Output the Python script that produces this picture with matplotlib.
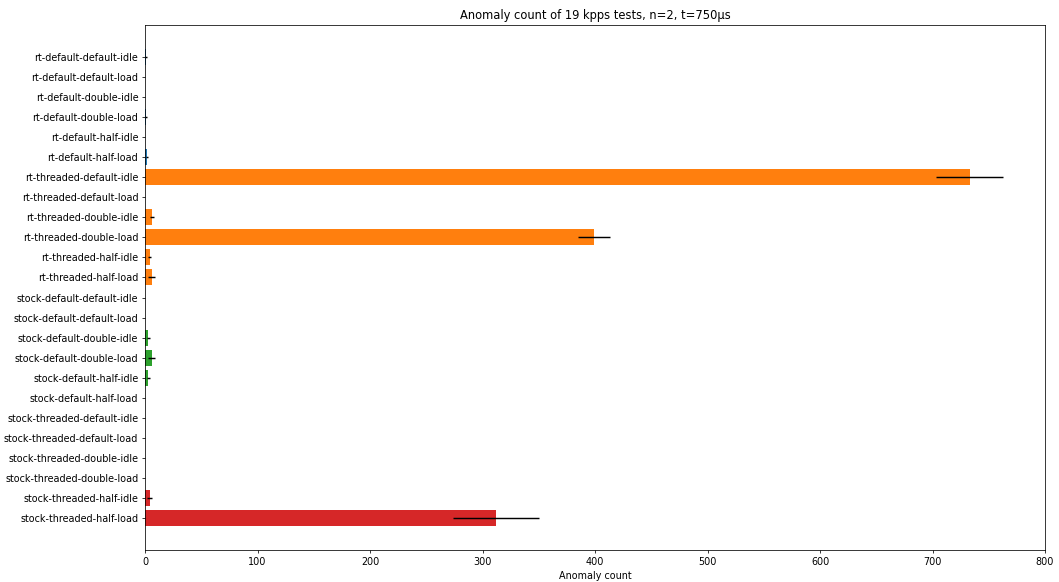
import matplotlib
matplotlib.use("Agg")
import matplotlib.pyplot as plt

labels = [
    "rt-default-default-idle", "rt-default-default-load",
    "rt-default-double-idle", "rt-default-double-load",
    "rt-default-half-idle", "rt-default-half-load",
    "rt-threaded-default-idle", "rt-threaded-default-load",
    "rt-threaded-double-idle", "rt-threaded-double-load",
    "rt-threaded-half-idle", "rt-threaded-half-load",
    "stock-default-default-idle", "stock-default-default-load",
    "stock-default-double-idle", "stock-default-double-load",
    "stock-default-half-idle", "stock-default-half-load",
    "stock-threaded-default-idle", "stock-threaded-default-load",
    "stock-threaded-double-idle", "stock-threaded-double-load",
    "stock-threaded-half-idle", "stock-threaded-half-load",
]
means = [1, 0, 0, 1, 0, 2,
         733, 0, 6, 399, 4, 6,
         0, 0, 3, 6, 3, 0,
         0, 0, 0, 0, 4, 312]
stds = [1, 0, 0, 1, 0, 1,
        30, 0, 2, 14.5, 1.5, 3,
        0, 0, 1, 3, 1.5, 0,
        0, 0, 0, 0, 2, 38]
groups = ["rt-default"] * 6 + ["rt-threaded"] * 6 + ["stock-default"] * 6 + ["stock-threaded"] * 6
group_colors = {"rt-default": "tab:blue", "rt-threaded": "tab:orange",
                "stock-default": "tab:green", "stock-threaded": "tab:red"}

DPI = 69
fig = plt.figure(figsize=(1059 / DPI, 582 / DPI), dpi=DPI)
ax = fig.add_axes([145 / 1059, 1 - 550 / 582, 900 / 1059, 525 / 582])
ypos = list(range(len(labels)))
ax.barh(ypos, means, xerr=stds, height=0.8,
        color=[group_colors[g] for g in groups], ecolor="black")
ax.set_yticks(ypos)
ax.set_yticklabels(labels)
ax.invert_yaxis()
ax.set_xlim(0, 800)
ax.set_xlabel("Anomaly count")
ax.set_title("Anomaly count of 19 kpps tests, n=2, t=750\u00b5s")
fig.savefig("out.png", dpi=DPI)
